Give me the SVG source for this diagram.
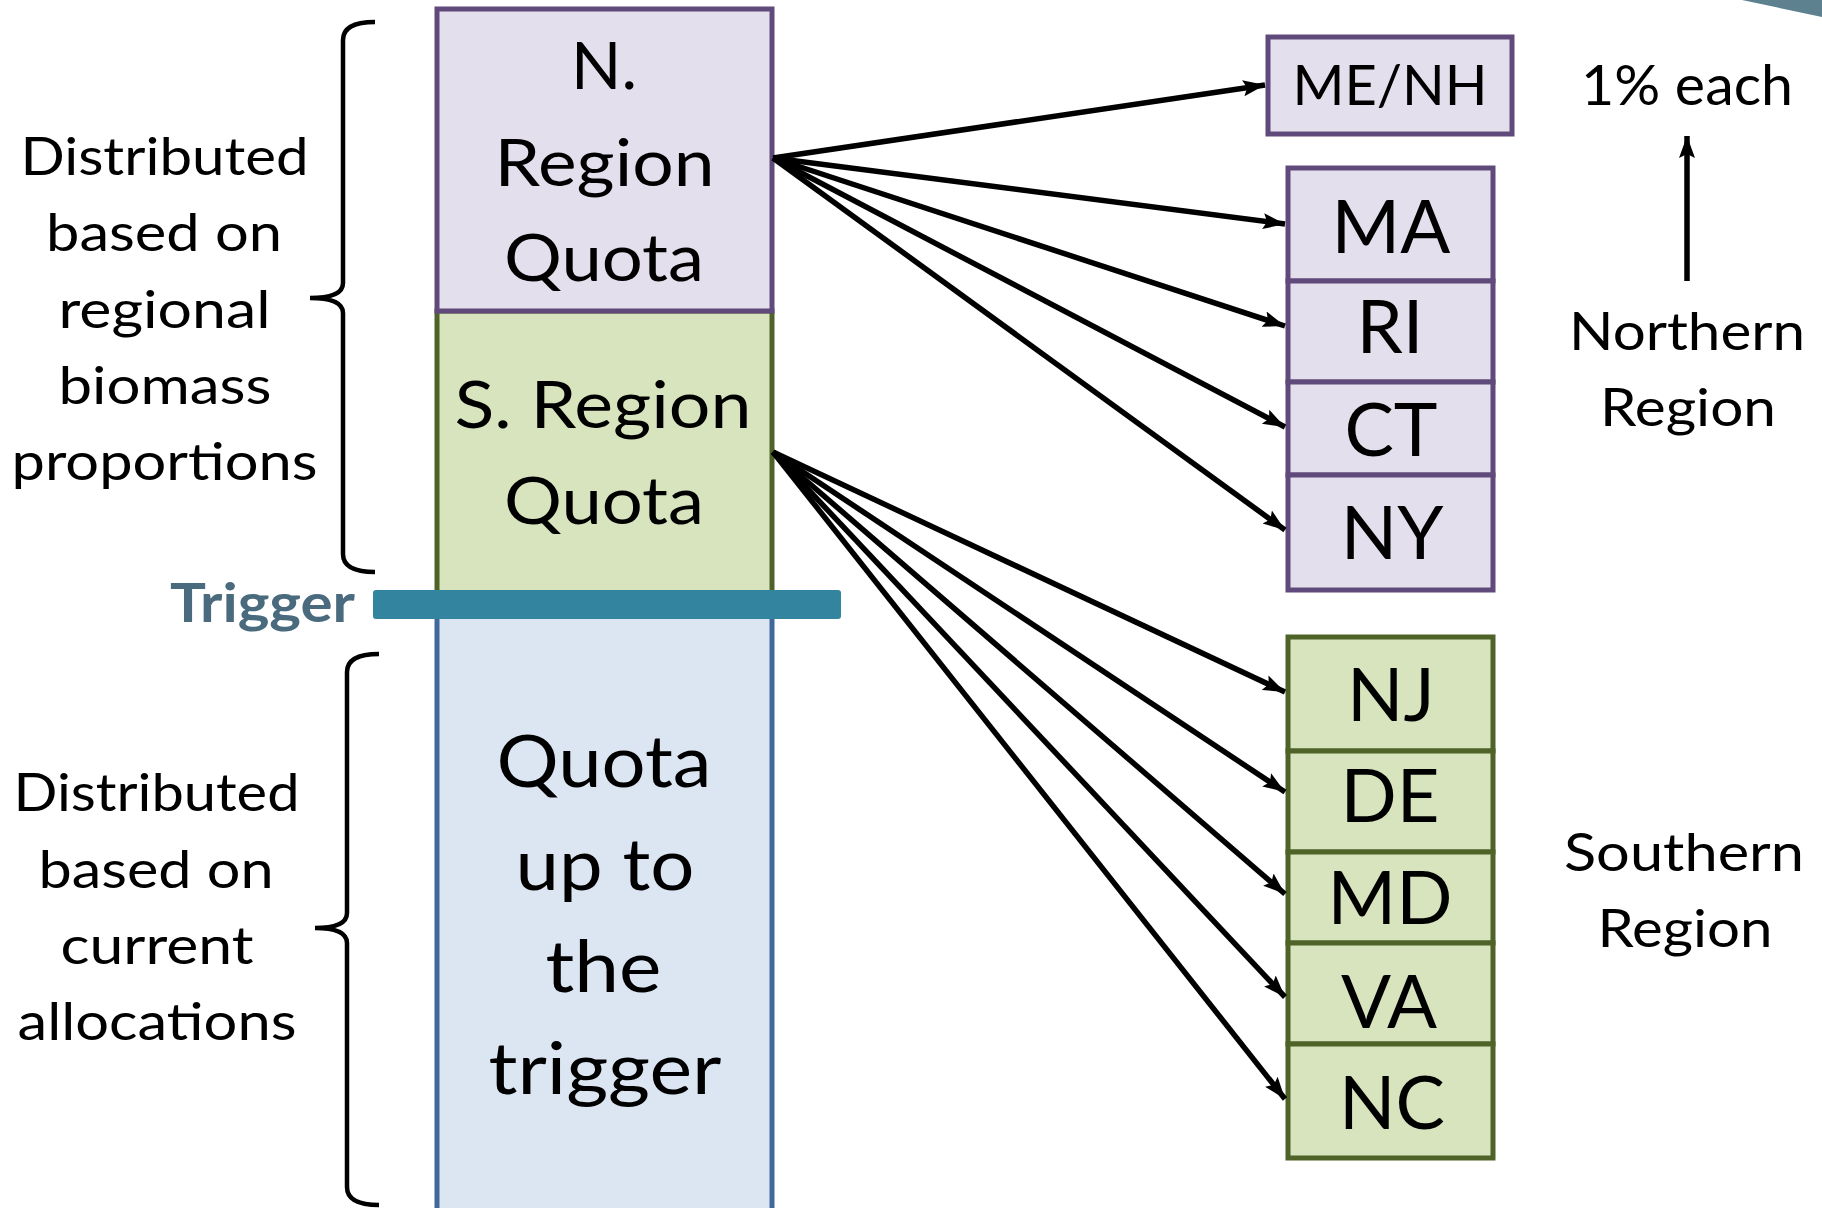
<svg xmlns="http://www.w3.org/2000/svg" width="1822" height="1208" viewBox="0 0 1822 1208">
<defs>
<style>
text{font-family:Lato,"Open Sans","Liberation Sans",sans-serif;fill:#000;text-anchor:middle}
.pur{fill:#E4DFEC;stroke:#604A7B;stroke-width:5}
.grn{fill:#D7E4BD;stroke:#4F6228;stroke-width:5}
.blu{fill:#DCE6F2;stroke:#41689A;stroke-width:5}
.big{font-size:66px}
.qt{font-size:71px}
.lbl{font-size:53px}
.st{font-size:74px}
.br{fill:none;stroke:#000;stroke-width:4.5}
.ar{stroke:#000;stroke-width:5.5;fill:none;marker-end:url(#ah)}
</style>
<marker id="ah" markerUnits="userSpaceOnUse" markerWidth="24" markerHeight="20" viewBox="0 0 24 20" refX="22" refY="10" orient="auto">
<path d="M0,2 L22,10 L0,18 L4,10 Z" fill="#000"/>
</marker>
</defs>
<rect width="1822" height="1208" fill="#fff"/>
<polygon points="1742,0 1822,0 1822,17" fill="#5E8190"/>

<g id="s-region">
<rect class="grn" x="437" y="311" width="335" height="285"/>
<text class="big" x="603" y="428" textLength="297" lengthAdjust="spacingAndGlyphs">S. Region</text>
<text class="big" x="604" y="524" textLength="200" lengthAdjust="spacingAndGlyphs">Quota</text>
</g>
<g id="n-region">
<rect class="pur" x="437" y="9" width="335" height="302"/>
<text class="big" x="604" y="89">N.</text>
<text class="big" x="604.5" y="186" textLength="220" lengthAdjust="spacingAndGlyphs">Region</text>
<text class="big" x="604" y="281" textLength="200" lengthAdjust="spacingAndGlyphs">Quota</text>
</g>
<g id="quota-trigger">
<rect class="blu" x="437" y="616" width="335" height="600"/>
<text class="qt" x="604" y="787" textLength="215" lengthAdjust="spacingAndGlyphs">Quota</text>
<text class="qt" x="605" y="890" textLength="179" lengthAdjust="spacingAndGlyphs">up to</text>
<text class="qt" x="603.5" y="992" textLength="116" lengthAdjust="spacingAndGlyphs">the</text>
<text class="qt" x="605" y="1094" textLength="233" lengthAdjust="spacingAndGlyphs">trigger</text>
</g>
<g id="trigger">
<rect x="373" y="590" width="468" height="29" rx="3" fill="#33849E"/>
<text x="262.5" y="622" textLength="185" lengthAdjust="spacingAndGlyphs" style="font-size:54px;font-weight:bold;fill:#4A6A7E">Trigger</text>
</g>

<g id="label-top">
<path class="br" d="M375,22 Q343,22 343,40 L343,283 Q343,298 310,298 Q343,298 343,313 L343,554 Q343,572 375,572"/>
<text class="lbl" x="164.5" y="175" textLength="288" lengthAdjust="spacingAndGlyphs">Distributed</text>
<text class="lbl" x="164" y="251" textLength="236" lengthAdjust="spacingAndGlyphs">based on</text>
<text class="lbl" x="164.5" y="328" textLength="212" lengthAdjust="spacingAndGlyphs">regional</text>
<text class="lbl" x="165" y="404" textLength="213" lengthAdjust="spacingAndGlyphs">biomass</text>
<text class="lbl" x="164.5" y="480" textLength="306" lengthAdjust="spacingAndGlyphs">proportions</text>
</g>
<g id="label-bottom">
<path class="br" d="M379,654 Q347,654 347,672 L347,913 Q347,928 315,928 Q347,928 347,943 L347,1187 Q347,1205 379,1205"/>
<text class="lbl" x="156.5" y="811" textLength="286" lengthAdjust="spacingAndGlyphs">Distributed</text>
<text class="lbl" x="156" y="888" textLength="235" lengthAdjust="spacingAndGlyphs">based on</text>
<text class="lbl" x="157" y="964" textLength="193" lengthAdjust="spacingAndGlyphs">current</text>
<text class="lbl" x="157" y="1040" textLength="279" lengthAdjust="spacingAndGlyphs">allocations</text>
</g>

<g id="menh">
<rect class="pur" x="1268" y="37" width="244" height="97"/>
<text style="font-size:56px" x="1390" y="105">ME/NH</text>
</g>
<g id="ma"><rect class="pur" x="1288" y="168" width="205" height="113"/><text class="st" x="1391" y="253">MA</text></g>
<g id="ri"><rect class="pur" x="1288" y="281" width="205" height="101"/><text class="st" x="1390" y="353">RI</text></g>
<g id="ct"><rect class="pur" x="1288" y="382" width="205" height="93"/><text class="st" x="1391" y="456">CT</text></g>
<g id="ny"><rect class="pur" x="1288" y="475" width="205" height="115"/><text class="st" x="1392" y="559">NY</text></g>

<g id="nj"><rect class="grn" x="1288" y="637" width="205" height="114"/><text class="st" x="1391" y="721">NJ</text></g>
<g id="de"><rect class="grn" x="1288" y="751" width="205" height="101"/><text class="st" x="1390" y="822">DE</text></g>
<g id="md"><rect class="grn" x="1288" y="852" width="205" height="91"/><text class="st" x="1390" y="924">MD</text></g>
<g id="va"><rect class="grn" x="1288" y="943" width="205" height="101"/><text class="st" x="1389" y="1028">VA</text></g>
<g id="nc"><rect class="grn" x="1288" y="1044" width="205" height="114"/><text class="st" x="1392" y="1129">NC</text></g>

<g id="northern">
<text style="font-size:56px" x="1687" y="105" textLength="212" lengthAdjust="spacingAndGlyphs">1% each</text>
<text class="lbl" x="1687" y="350" textLength="236" lengthAdjust="spacingAndGlyphs">Northern</text>
<text class="lbl" x="1688" y="426" textLength="176" lengthAdjust="spacingAndGlyphs">Region</text>
</g>
<g id="southern">
<text class="lbl" x="1684" y="871" textLength="240" lengthAdjust="spacingAndGlyphs">Southern</text>
<text class="lbl" x="1685" y="947" textLength="175" lengthAdjust="spacingAndGlyphs">Region</text>
</g>

<g id="connectors">
<line class="ar" x1="1687" y1="281" x2="1687" y2="136"/>
<line class="ar" x1="773" y1="158" x2="1265" y2="85"/>
<line class="ar" x1="773" y1="158" x2="1285" y2="224"/>
<line class="ar" x1="773" y1="158" x2="1285" y2="326"/>
<line class="ar" x1="773" y1="158" x2="1285" y2="427"/>
<line class="ar" x1="773" y1="158" x2="1285" y2="530"/>
<line class="ar" x1="773" y1="452" x2="1285" y2="692"/>
<line class="ar" x1="773" y1="452" x2="1285" y2="792"/>
<line class="ar" x1="773" y1="452" x2="1285" y2="894"/>
<line class="ar" x1="773" y1="452" x2="1285" y2="997"/>
<line class="ar" x1="773" y1="452" x2="1285" y2="1099"/>
</g>
</svg>
